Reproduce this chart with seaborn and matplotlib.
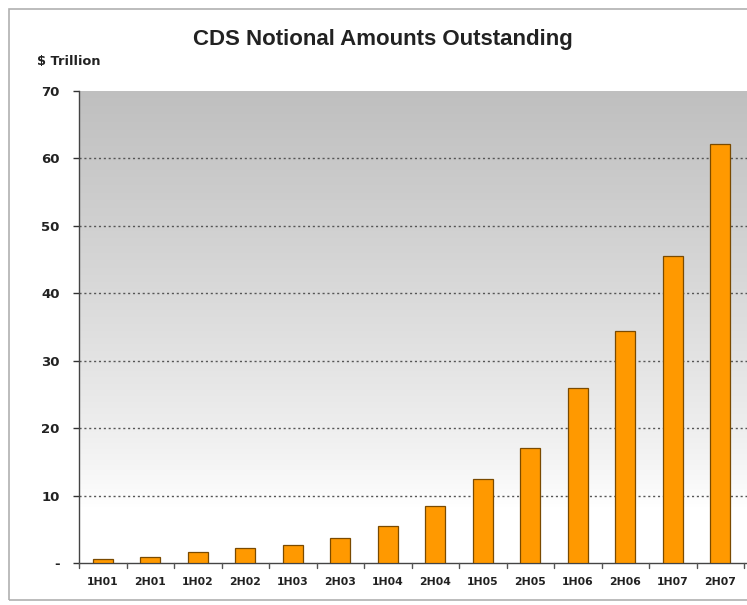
import numpy as np
import pandas as pd
import matplotlib
matplotlib.use("Agg")
import matplotlib.pyplot as plt
import seaborn as sns
from matplotlib.patches import Rectangle

periods = ["1H01", "2H01", "1H02", "2H02", "1H03", "2H03", "1H04",
           "2H04", "1H05", "2H05", "1H06", "2H06", "1H07", "2H07"]
notional = [0.63, 0.92, 1.56, 2.19, 2.69, 3.78, 5.44,
            8.42, 12.43, 17.10, 26.0, 34.4, 45.5, 62.2]
ytick_vals = [0, 10, 20, 30, 40, 50, 60, 70]
ytick_labels = ["-", "10", "20", "30", "40", "50", "60", "70"]

sns.set_theme(style="white")
plt.rcParams["font.family"] = ["DejaVu Sans"]

df = pd.DataFrame({"period": periods, "value": notional})

fig = plt.figure(figsize=(7.47, 6.05), dpi=100)
fig.patch.set_facecolor("white")
fig.add_artist(Rectangle((9/747, 1-600/605), 1.2, 591/605, transform=fig.transFigure,
                         fill=False, edgecolor="#b0b0b0", linewidth=1.2))

ax = fig.add_axes([79/747, 1-563/605, 668/747, 472/605])
xmax = len(periods) - 0.44

# gradient background: gray at top fading to white toward bottom
grad = np.linspace(0, 1, 256).reshape(-1, 1)
g = np.clip((grad - 0.12) / 0.88, 0, 1) ** 0.8
colors = np.ones((256, 1, 3))
shade = 1 - g * (1 - 0.75)
colors[..., 0] = shade
colors[..., 1] = shade
colors[..., 2] = shade
ax.imshow(colors, extent=(-0.5, xmax, 0, 70), origin="lower",
          aspect="auto", zorder=0)

sns.barplot(data=df, x="period", y="value", color="#ff9900", width=0.42,
            edgecolor="#7a4a00", linewidth=0.9, saturation=1, ax=ax, zorder=3)

ax.set_xlim(-0.5, xmax)
ax.set_ylim(0, 70)
for v in ytick_vals[1:-1]:
    ax.axhline(v, color="#555555", linestyle=(0, (1.5, 2)), linewidth=1.0, zorder=2)

ax.set_yticks(ytick_vals)
ax.set_yticklabels(ytick_labels, fontsize=9.5, fontweight="bold", color="#222222")
ax.set_xticks(range(len(periods)))
ax.set_xticklabels(periods, fontsize=7.8, fontweight="bold", color="#222222")
ax.tick_params(axis="x", length=0, pad=10)
ax.tick_params(axis="y", length=4, width=1, color="#333333", direction="out", left=True, pad=10)
# x tick marks at category boundaries
for b in np.arange(-0.5, len(periods), 1.0):
    ax.plot([b, b], [0, -0.8], color="#555555", lw=1, clip_on=False, zorder=4)

ax.set_xlabel("")
ax.set_ylabel("")
for s in ["top", "right"]:
    ax.spines[s].set_visible(False)
ax.spines["left"].set_color("#444444")
ax.spines["bottom"].set_color("#444444")
ax.spines["left"].set_linewidth(1)
ax.spines["bottom"].set_linewidth(1)

fig.text(383/747, 1-40/605, "CDS Notional Amounts Outstanding", ha="center", va="center",
         fontsize=16, fontweight="bold", family="Liberation Sans", color="#222222")
fig.text(37/747, 1-61/605, "$ Trillion", ha="left", va="center", fontsize=9.3,
         fontweight="bold", color="#222222")

fig.savefig("out.png", dpi=100)
